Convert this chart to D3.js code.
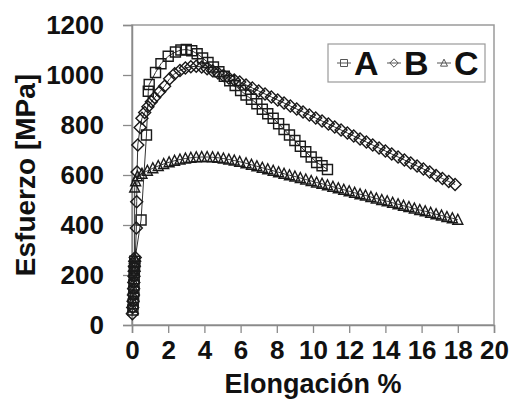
<!DOCTYPE html>
<html>
<head>
<meta charset="utf-8">
<script src="https://cdn.jsdelivr.net/npm/d3@7"></script>
<style>
  body { margin: 0; background: #fff; }
  svg { display: block; font-family: "Liberation Sans", Arial, sans-serif; }
</style>
</head>
<body>
<svg width="514" height="400"></svg>
<script>
// strain (%) and stress (MPa)
const strainA = [0.05, 0.07, 0.09, 0.10, 0.11, 0.12, 0.13, 0.14, 0.15, 0.5, 0.8, 0.9, 0.95, 1.3, 1.6, 2.0, 2.4, 2.7, 3.0, 3.3, 3.6, 3.9, 4.2, 4.5, 4.8, 5.1, 5.4, 5.7, 6.0, 6.3, 6.6, 6.9, 7.2, 7.5, 7.8, 8.1, 8.4, 8.7, 9.0, 9.3, 9.6, 9.9, 10.2, 10.5, 10.8];
const stressA = [60, 85, 110, 135, 160, 185, 210, 235, 255, 420, 760, 935, 962, 1010, 1045, 1075, 1092, 1100, 1102, 1097, 1085, 1068, 1050, 1032, 1013, 995, 977, 958, 938, 920, 903, 885, 863, 845, 827, 805, 782, 760, 738, 715, 693, 672, 650, 637, 622];

const strainB = [0.02, 0.04, 0.06, 0.08, 0.09, 0.10, 0.11, 0.12, 0.13, 0.15, 0.18, 0.24, 0.26, 0.28, 0.32, 0.45, 0.55, 0.7, 0.88, 1.07, 1.25, 1.53, 1.8, 2.08, 2.36, 2.65, 2.95, 3.25, 3.55, 3.85, 4.15, 4.45, 4.75, 5.05, 5.35, 5.65, 5.95, 6.3, 6.65, 7.0, 7.35, 7.7, 8.05, 8.4, 8.75, 9.1, 9.45, 9.8, 10.15, 10.5, 10.85, 11.2, 11.55, 11.9, 12.25, 12.6, 12.95, 13.3, 13.65, 14.0, 14.35, 14.7, 15.05, 15.4, 15.75, 16.1, 16.45, 16.8, 17.15, 17.5, 17.85];
const stressB = [45, 70, 95, 120, 145, 170, 195, 215, 235, 255, 270, 388, 493, 612, 720, 790, 827, 850, 873, 893, 910, 933, 955, 985, 1005, 1018, 1028, 1033, 1035, 1032, 1025, 1017, 1008, 998, 988, 980, 972, 960, 948, 936, 924, 912, 900, 888, 876, 864, 852, 840, 828, 816, 804, 792, 780, 768, 756, 744, 732, 720, 708, 696, 684, 672, 660, 648, 636, 624, 612, 598, 586, 574, 562];

const strainC = [0.03, 0.05, 0.07, 0.08, 0.09, 0.10, 0.11, 0.12, 0.13, 0.14, 0.15, 0.2, 0.3, 0.55, 0.85, 1.15, 1.45, 1.75, 2.05, 2.35, 2.65, 2.95, 3.25, 3.55, 3.85, 4.15, 4.45, 4.75, 5.05, 5.35, 5.65, 5.95, 6.3, 6.6, 6.9, 7.2, 7.5, 7.8, 8.1, 8.4, 8.7, 9.0, 9.3, 9.6, 9.9, 10.2, 10.5, 10.8, 11.1, 11.4, 11.7, 12.0, 12.3, 12.6, 12.9, 13.2, 13.5, 13.8, 14.1, 14.4, 14.7, 15.0, 15.3, 15.6, 15.9, 16.2, 16.5, 16.8, 17.1, 17.4, 17.7, 18.0];
const stressC = [70, 95, 120, 145, 170, 195, 215, 235, 250, 265, 550, 575, 595, 605, 617, 627, 636, 644, 651, 657, 662, 666, 669, 671, 672, 672, 671, 669, 666, 662, 658, 653, 647, 641, 635, 629, 623, 617, 611, 605, 599, 594, 588, 582, 576, 570, 565, 559, 553, 547, 541, 535, 529, 523, 518, 512, 506, 500, 495, 489, 483, 477, 472, 466, 460, 455, 449, 443, 438, 432, 427, 421];

const seriesNames = ["A", "B", "C"];
const xTicks = [0, 2, 4, 6, 8, 10, 12, 14, 16, 18, 20];
const yTicks = [0, 200, 400, 600, 800, 1000, 1200];

const svg = d3.select("svg");

const xScale = d3.scaleLinear().domain([0, 20]).range([132, 494]);
const yScale = d3.scaleLinear().domain([0, 1200]).range([325, 25]);

// marker shapes, excel style
const markerPaths = {
  A: s => `M${-5 * s},${-5 * s}h${10 * s}v${10 * s}h${-10 * s}z`,
  B: s => `M0,${-6 * s}L${6 * s},0L0,${6 * s}L${-6 * s},0z`,
  C: s => `M0,${-5.5 * s}L${5 * s},${4.5 * s}L${-5 * s},${4.5 * s}z`
};

const series = [
  { name: "A", points: d3.zip(strainA, stressA) },
  { name: "B", points: d3.zip(strainB, stressB) },
  { name: "C", points: d3.zip(strainC, stressC) }
];

// plot frame
svg.append("rect")
  .attr("x", xScale(0)).attr("y", yScale(1200))
  .attr("width", xScale(20) - xScale(0))
  .attr("height", yScale(0) - yScale(1200))
  .attr("fill", "none").attr("stroke", "#9a9a9a").attr("stroke-width", 1.5);

// axes
const xAxis = svg.append("g")
  .attr("transform", `translate(0,${yScale(0)})`)
  .call(d3.axisBottom(xScale).tickValues(xTicks).tickFormat(d3.format("d")).tickSize(8).tickPadding(10));

const yAxis = svg.append("g")
  .attr("transform", `translate(${xScale(0)},0)`)
  .call(d3.axisLeft(yScale).tickValues(yTicks).tickFormat(d3.format("d")).tickSize(9).tickPadding(19));

[xAxis, yAxis].forEach(ax => {
  ax.select(".domain").attr("stroke", "#8a8a8a").attr("stroke-width", 1.5);
  ax.selectAll(".tick line").attr("stroke", "#8a8a8a").attr("stroke-width", 1.3);
  ax.selectAll(".tick text")
    .attr("fill", "#111")
    .style("font-size", "26px")
    .style("font-weight", "bold")
    .style("font-family", "'Liberation Sans', Arial, sans-serif");
});
xAxis.selectAll(".tick text").attr("dy", "0.62em");

// lines and markers
const line = d3.line().x(d => xScale(d[0])).y(d => yScale(d[1]));

series.forEach(s => {
  const g = svg.append("g");
  g.append("path")
    .datum(s.points)
    .attr("d", line)
    .attr("fill", "none")
    .attr("stroke", "#333")
    .attr("stroke-width", 1);
  g.selectAll("path.mk")
    .data(s.points)
    .enter().append("path")
    .attr("class", "mk")
    .attr("transform", d => `translate(${xScale(d[0])},${yScale(d[1])})`)
    .attr("d", markerPaths[s.name](1))
    .attr("fill", "none")
    .attr("stroke", "#1a1a1a")
    .attr("stroke-width", 1.4);
});

// legend
const legend = svg.append("g");
legend.append("rect")
  .attr("x", 328).attr("y", 44).attr("width", 157).attr("height", 38)
  .attr("fill", "#fff").attr("stroke", "#9a9a9a").attr("stroke-width", 1.2);

const legendX = [337, 387, 437];
seriesNames.forEach((name, i) => {
  const x0 = legendX[i];
  legend.append("line")
    .attr("x1", x0).attr("x2", x0 + 14)
    .attr("y1", 63).attr("y2", 63)
    .attr("stroke", "#555").attr("stroke-width", 1);
  legend.append("path")
    .attr("transform", `translate(${x0 + 7},63)`)
    .attr("d", markerPaths[name](0.7))
    .attr("fill", "none").attr("stroke", "#555").attr("stroke-width", 1);
  legend.append("text")
    .attr("x", x0 + 17).attr("y", 75)
    .attr("font-size", 34).attr("font-weight", "bold").attr("fill", "#111")
    .text(name);
});

// axis titles
svg.append("text")
  .attr("x", xScale(10)).attr("y", 393)
  .attr("text-anchor", "middle")
  .attr("font-size", 27).attr("font-weight", "bold").attr("fill", "#111")
  .text("Elongación %");

svg.append("text")
  .attr("transform", "translate(35,175) rotate(-90)")
  .attr("text-anchor", "middle")
  .attr("font-size", 28).attr("font-weight", "bold").attr("fill", "#111")
  .text("Esfuerzo [MPa]");
</script>
</body>
</html>
